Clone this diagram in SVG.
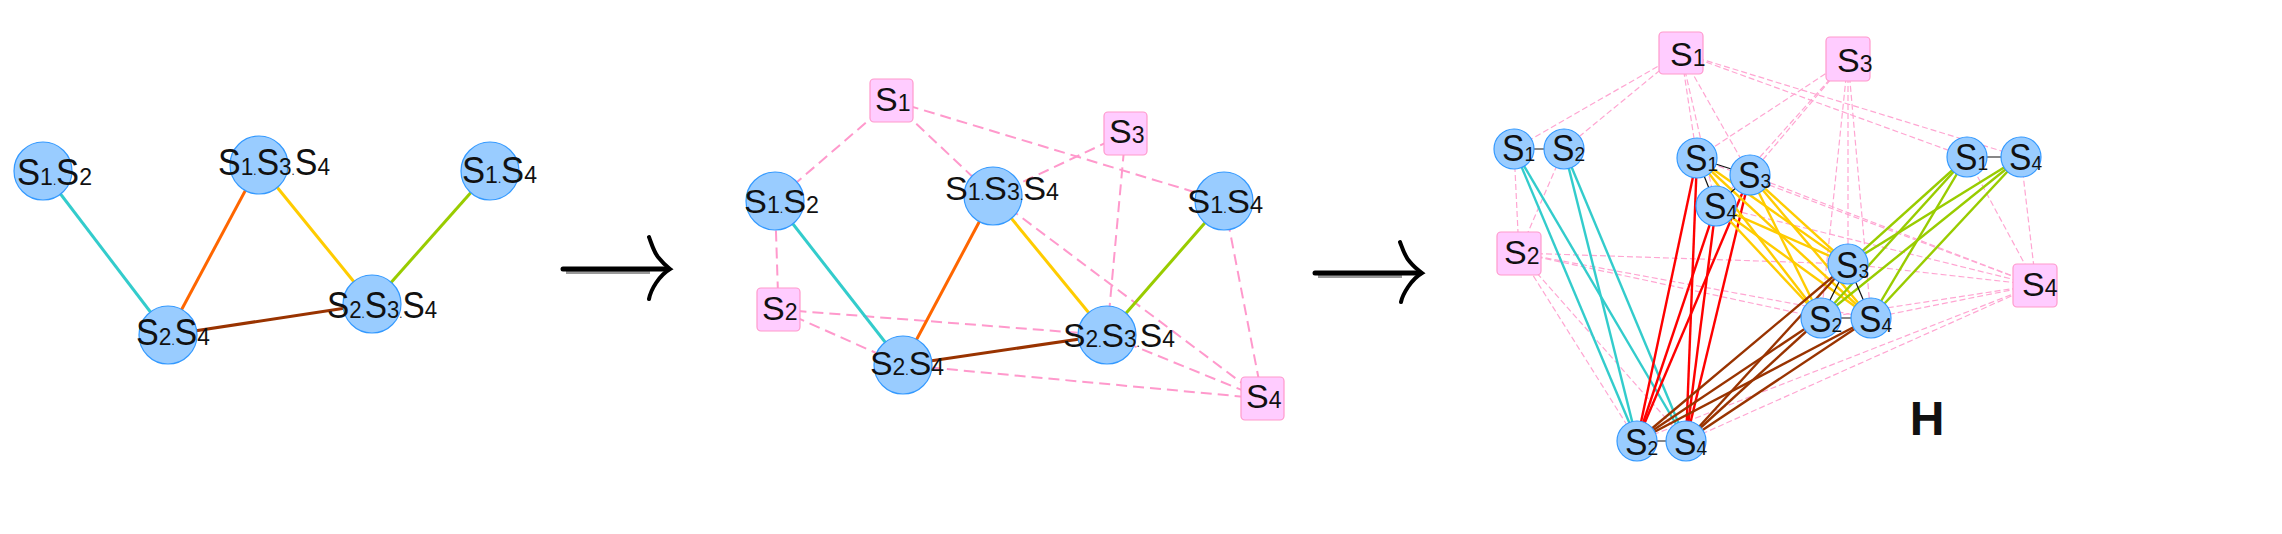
<svg xmlns="http://www.w3.org/2000/svg" width="2282" height="534" viewBox="0 0 2282 534">
<style>
text{font-family:"Liberation Sans",Arial,sans-serif;fill:#111}
.n{fill:#99ccff;stroke:#3399ff;stroke-width:1.2}
.b{fill:#ffccff;stroke:#ff99cc;stroke-width:1.2}
.l1{font-size:36px}.l1 .d{font-size:24px}
.l2{font-size:34px}.l2 .d{font-size:23px}
.l3{font-size:37px}.l3 .d{font-size:21px}
.lb{font-size:34px}.lb .d{font-size:23px}
.dot{font-size:12px}
.e{fill:none;stroke-width:3}
.e3{fill:none;stroke-width:2.4}
.teal{stroke:#33cccc}.orange{stroke:#ff6600}.yellow{stroke:#ffcc00}.green{stroke:#99cc00}.brown{stroke:#993300}.red{stroke:#ff0000}
.dash2{stroke:#ff99cc;stroke-width:2;stroke-dasharray:11 6;fill:none}
.dash3{stroke:#ffa6d2;stroke-width:1.2;stroke-dasharray:6 3;fill:none}
.blk{stroke:#111;stroke-width:1.2;fill:none}
.arr{stroke:#000;fill:none;stroke-linecap:round}
.title{font-size:48px;font-weight:bold}
</style>

<!-- ============ Panel 1 ============ -->
<g id="p1-connectors">
<line class="e teal" x1="43" y1="171" x2="168" y2="335"/>
<line class="e orange" x1="259" y1="165" x2="168" y2="335"/>
<line class="e yellow" x1="259" y1="165" x2="372" y2="304"/>
<line class="e green" x1="490" y1="171" x2="372" y2="304"/>
<line class="e brown" x1="168" y1="335" x2="372" y2="304"/>
</g>
<g id="p1-S1S2"><circle class="n" cx="43" cy="171" r="29"/><text class="l1" x="17" y="185" textLength="75" lengthAdjust="spacingAndGlyphs">S<tspan class="d">1</tspan><tspan class="dot">.</tspan>S<tspan class="d">2</tspan></text></g>
<g id="p1-S1S3S4"><circle class="n" cx="259" cy="165" r="29"/><text class="l1" x="218" y="175" textLength="112" lengthAdjust="spacingAndGlyphs">S<tspan class="d">1</tspan><tspan class="dot">.</tspan>S<tspan class="d">3</tspan><tspan class="dot">.</tspan>S<tspan class="d">4</tspan></text></g>
<g id="p1-S1S4"><circle class="n" cx="490" cy="171" r="29"/><text class="l1" x="462" y="183" textLength="75" lengthAdjust="spacingAndGlyphs">S<tspan class="d">1</tspan><tspan class="dot">.</tspan>S<tspan class="d">4</tspan></text></g>
<g id="p1-S2S4"><circle class="n" cx="168" cy="335" r="29"/><text class="l1" x="136" y="345" textLength="74" lengthAdjust="spacingAndGlyphs">S<tspan class="d">2</tspan><tspan class="dot">.</tspan>S<tspan class="d">4</tspan></text></g>
<g id="p1-S2S3S4"><circle class="n" cx="372" cy="304" r="29"/><text class="l1" x="327" y="318" textLength="110" lengthAdjust="spacingAndGlyphs">S<tspan class="d">2</tspan><tspan class="dot">.</tspan>S<tspan class="d">3</tspan><tspan class="dot">.</tspan>S<tspan class="d">4</tspan></text></g>

<!-- arrows -->
<g id="arrow1">
<line x1="566" y1="272" x2="650" y2="272" stroke="#999" stroke-width="4"/>
<line class="arr" x1="563" y1="269" x2="668" y2="269" stroke-width="5"/>
<path class="arr" stroke-width="4" d="M649,237 C652,245 654,252 658,257 C662,262 666,266 670,269 C665,272 660,277 656,283 C652,289 650,294 649,299"/>
</g>
<g id="arrow2">
<line x1="1318" y1="276" x2="1402" y2="276" stroke="#999" stroke-width="4"/>
<line class="arr" x1="1315" y1="273" x2="1420" y2="273" stroke-width="5"/>
<path class="arr" stroke-width="4" d="M1400,242 C1403,250 1405,257 1410,262 C1414,267 1418,270 1422,273 C1417,276 1412,281 1408,287 C1404,293 1402,297 1401,302"/>
</g>

<!-- ============ Panel 2 ============ -->
<g id="p2-connectors">
<line class="dash2" x1="891.5" y1="100.5" x2="775" y2="201"/>
<line class="dash2" x1="891.5" y1="100.5" x2="993" y2="196"/>
<line class="dash2" x1="891.5" y1="100.5" x2="1224" y2="201"/>
<line class="dash2" x1="778.5" y1="309.5" x2="775" y2="201"/>
<line class="dash2" x1="778.5" y1="309.5" x2="903" y2="365"/>
<line class="dash2" x1="778.5" y1="309.5" x2="1107" y2="335"/>
<line class="dash2" x1="1125.5" y1="133.5" x2="993" y2="196"/>
<line class="dash2" x1="1125.5" y1="133.5" x2="1107" y2="335"/>
<line class="dash2" x1="1262.5" y1="398.5" x2="993" y2="196"/>
<line class="dash2" x1="1262.5" y1="398.5" x2="1224" y2="201"/>
<line class="dash2" x1="1262.5" y1="398.5" x2="903" y2="365"/>
<line class="dash2" x1="1262.5" y1="398.5" x2="1107" y2="335"/>
<line class="e teal" x1="775" y1="201" x2="903" y2="365"/>
<line class="e orange" x1="993" y1="196" x2="903" y2="365"/>
<line class="e yellow" x1="993" y1="196" x2="1107" y2="335"/>
<line class="e green" x1="1224" y1="201" x2="1107" y2="335"/>
<line class="e brown" x1="903" y1="365" x2="1107" y2="335"/>
</g>
<g id="p2-S1"><rect class="b" x="870" y="79" width="43" height="43" rx="4"/><text class="lb" x="875" y="111">S<tspan class="d">1</tspan></text></g>
<g id="p2-S3"><rect class="b" x="1104" y="112" width="43" height="43" rx="4"/><text class="lb" x="1109" y="143">S<tspan class="d">3</tspan></text></g>
<g id="p2-S2"><rect class="b" x="757" y="288" width="43" height="43" rx="4"/><text class="lb" x="762" y="320">S<tspan class="d">2</tspan></text></g>
<g id="p2-S4"><rect class="b" x="1241" y="377" width="43" height="43" rx="4"/><text class="lb" x="1246" y="408">S<tspan class="d">4</tspan></text></g>
<g id="p2-S1S2"><circle class="n" cx="775" cy="201" r="29"/><text class="l2" x="744" y="213" textLength="75" lengthAdjust="spacingAndGlyphs">S<tspan class="d">1</tspan><tspan class="dot">.</tspan>S<tspan class="d">2</tspan></text></g>
<g id="p2-S1S3S4"><circle class="n" cx="993" cy="196" r="29"/><text class="l2" x="945" y="200" textLength="114" lengthAdjust="spacingAndGlyphs">S<tspan class="d">1</tspan><tspan class="dot">.</tspan>S<tspan class="d">3</tspan><tspan class="dot">.</tspan>S<tspan class="d">4</tspan></text></g>
<g id="p2-S1S4"><circle class="n" cx="1224" cy="201" r="29"/><text class="l2" x="1187" y="213" textLength="76" lengthAdjust="spacingAndGlyphs">S<tspan class="d">1</tspan><tspan class="dot">.</tspan>S<tspan class="d">4</tspan></text></g>
<g id="p2-S2S4"><circle class="n" cx="903" cy="365" r="29"/><text class="l2" x="870" y="375" textLength="74" lengthAdjust="spacingAndGlyphs">S<tspan class="d">2</tspan><tspan class="dot">.</tspan>S<tspan class="d">4</tspan></text></g>
<g id="p2-S2S3S4"><circle class="n" cx="1107" cy="335" r="29"/><text class="l2" x="1063" y="347" textLength="112" lengthAdjust="spacingAndGlyphs">S<tspan class="d">2</tspan><tspan class="dot">.</tspan>S<tspan class="d">3</tspan><tspan class="dot">.</tspan>S<tspan class="d">4</tspan></text></g>

<!-- ============ Panel 3 ============ -->
<g id="p3-connectors">
<!-- pink dashed: S1 box -->
<line class="dash3" x1="1681" y1="53" x2="1514" y2="149"/>
<line class="dash3" x1="1681" y1="53" x2="1564" y2="149"/>
<line class="dash3" x1="1681" y1="53" x2="1697" y2="158"/>
<line class="dash3" x1="1681" y1="53" x2="1750" y2="175"/>
<line class="dash3" x1="1681" y1="53" x2="1716" y2="206"/>
<line class="dash3" x1="1681" y1="53" x2="1967" y2="157"/>
<line class="dash3" x1="1681" y1="53" x2="2021" y2="157"/>
<!-- S2 box -->
<line class="dash3" x1="1519" y1="253" x2="1514" y2="149"/>
<line class="dash3" x1="1519" y1="253" x2="1564" y2="149"/>
<line class="dash3" x1="1519" y1="253" x2="1637" y2="441"/>
<line class="dash3" x1="1519" y1="253" x2="1686" y2="441"/>
<line class="dash3" x1="1519" y1="253" x2="1821" y2="318"/>
<line class="dash3" x1="1519" y1="253" x2="1848" y2="264"/>
<line class="dash3" x1="1519" y1="253" x2="1871" y2="318"/>
<!-- S3 box -->
<line class="dash3" x1="1848" y1="59" x2="1697" y2="158"/>
<line class="dash3" x1="1848" y1="59" x2="1750" y2="175"/>
<line class="dash3" x1="1848" y1="59" x2="1716" y2="206"/>
<line class="dash3" x1="1848" y1="59" x2="1821" y2="318"/>
<line class="dash3" x1="1848" y1="59" x2="1848" y2="264"/>
<line class="dash3" x1="1848" y1="59" x2="1871" y2="318"/>
<!-- S4 box -->
<line class="dash3" x1="2036" y1="285" x2="1697" y2="158"/>
<line class="dash3" x1="2036" y1="285" x2="1750" y2="175"/>
<line class="dash3" x1="2036" y1="285" x2="1716" y2="206"/>
<line class="dash3" x1="2036" y1="285" x2="1967" y2="157"/>
<line class="dash3" x1="2036" y1="285" x2="2021" y2="157"/>
<line class="dash3" x1="2036" y1="285" x2="1637" y2="441"/>
<line class="dash3" x1="2036" y1="285" x2="1686" y2="441"/>
<line class="dash3" x1="2036" y1="285" x2="1821" y2="318"/>
<line class="dash3" x1="2036" y1="285" x2="1848" y2="264"/>
<line class="dash3" x1="2036" y1="285" x2="1871" y2="318"/>
<!-- teal -->
<line class="e3 teal" x1="1514" y1="149" x2="1637" y2="441"/>
<line class="e3 teal" x1="1514" y1="149" x2="1686" y2="441"/>
<line class="e3 teal" x1="1564" y1="149" x2="1637" y2="441"/>
<line class="e3 teal" x1="1564" y1="149" x2="1686" y2="441"/>
<!-- red -->
<line class="e3 red" x1="1697" y1="158" x2="1637" y2="441"/>
<line class="e3 red" x1="1697" y1="158" x2="1686" y2="441"/>
<line class="e3 red" x1="1750" y1="175" x2="1637" y2="441"/>
<line class="e3 red" x1="1750" y1="175" x2="1686" y2="441"/>
<line class="e3 red" x1="1716" y1="206" x2="1637" y2="441"/>
<line class="e3 red" x1="1716" y1="206" x2="1686" y2="441"/>
<!-- yellow -->
<line class="e3 yellow" x1="1697" y1="158" x2="1821" y2="318"/>
<line class="e3 yellow" x1="1697" y1="158" x2="1848" y2="264"/>
<line class="e3 yellow" x1="1697" y1="158" x2="1871" y2="318"/>
<line class="e3 yellow" x1="1750" y1="175" x2="1821" y2="318"/>
<line class="e3 yellow" x1="1750" y1="175" x2="1848" y2="264"/>
<line class="e3 yellow" x1="1750" y1="175" x2="1871" y2="318"/>
<line class="e3 yellow" x1="1716" y1="206" x2="1821" y2="318"/>
<line class="e3 yellow" x1="1716" y1="206" x2="1848" y2="264"/>
<line class="e3 yellow" x1="1716" y1="206" x2="1871" y2="318"/>
<!-- green -->
<line class="e3 green" x1="1967" y1="157" x2="1821" y2="318"/>
<line class="e3 green" x1="1967" y1="157" x2="1848" y2="264"/>
<line class="e3 green" x1="1967" y1="157" x2="1871" y2="318"/>
<line class="e3 green" x1="2021" y1="157" x2="1821" y2="318"/>
<line class="e3 green" x1="2021" y1="157" x2="1848" y2="264"/>
<line class="e3 green" x1="2021" y1="157" x2="1871" y2="318"/>
<!-- brown -->
<line class="e3 brown" x1="1637" y1="441" x2="1821" y2="318"/>
<line class="e3 brown" x1="1637" y1="441" x2="1848" y2="264"/>
<line class="e3 brown" x1="1637" y1="441" x2="1871" y2="318"/>
<line class="e3 brown" x1="1686" y1="441" x2="1821" y2="318"/>
<line class="e3 brown" x1="1686" y1="441" x2="1848" y2="264"/>
<line class="e3 brown" x1="1686" y1="441" x2="1871" y2="318"/>
<!-- black intra-cluster -->
<line class="blk" x1="1514" y1="149" x2="1564" y2="149"/>
<line class="blk" x1="1697" y1="158" x2="1750" y2="175"/>
<line class="blk" x1="1697" y1="158" x2="1716" y2="206"/>
<line class="blk" x1="1750" y1="175" x2="1716" y2="206"/>
<line class="blk" x1="1967" y1="157" x2="2021" y2="157"/>
<line class="blk" x1="1848" y1="264" x2="1821" y2="318"/>
<line class="blk" x1="1848" y1="264" x2="1871" y2="318"/>
<line class="blk" x1="1821" y1="318" x2="1871" y2="318"/>
<line class="blk" x1="1637" y1="441" x2="1686" y2="441"/>
</g>
<g id="p3-box-S1"><rect class="b" x="1659" y="32" width="44" height="42" rx="4"/><text class="lb" x="1670" y="66">S<tspan class="d">1</tspan></text></g>
<g id="p3-box-S3"><rect class="b" x="1826" y="37" width="44" height="44" rx="4"/><text class="lb" x="1837" y="72">S<tspan class="d">3</tspan></text></g>
<g id="p3-box-S2"><rect class="b" x="1497" y="232" width="44" height="43" rx="4"/><text class="lb" x="1504" y="264">S<tspan class="d">2</tspan></text></g>
<g id="p3-box-S4"><rect class="b" x="2013" y="264" width="44" height="43" rx="4"/><text class="lb" x="2022" y="296">S<tspan class="d">4</tspan></text></g>

<g id="p3-S1S2-S1"><circle class="n" cx="1514" cy="149" r="20"/><text class="l3" x="1502" y="161" textLength="33" lengthAdjust="spacingAndGlyphs">S<tspan class="d">1</tspan></text></g>
<g id="p3-S1S2-S2"><circle class="n" cx="1564" cy="149" r="20"/><text class="l3" x="1552" y="161" textLength="33" lengthAdjust="spacingAndGlyphs">S<tspan class="d">2</tspan></text></g>
<g id="p3-S1S3S4-S1"><circle class="n" cx="1697" cy="158" r="20"/><text class="l3" x="1685" y="171" textLength="33" lengthAdjust="spacingAndGlyphs">S<tspan class="d">1</tspan></text></g>
<g id="p3-S1S3S4-S3"><circle class="n" cx="1750" cy="175" r="20"/><text class="l3" x="1738" y="188" textLength="33" lengthAdjust="spacingAndGlyphs">S<tspan class="d">3</tspan></text></g>
<g id="p3-S1S3S4-S4"><circle class="n" cx="1716" cy="206" r="20"/><text class="l3" x="1704" y="219" textLength="33" lengthAdjust="spacingAndGlyphs">S<tspan class="d">4</tspan></text></g>
<g id="p3-S1S4-S1"><circle class="n" cx="1967" cy="157" r="20"/><text class="l3" x="1955" y="170" textLength="33" lengthAdjust="spacingAndGlyphs">S<tspan class="d">1</tspan></text></g>
<g id="p3-S1S4-S4"><circle class="n" cx="2021" cy="157" r="20"/><text class="l3" x="2009" y="170" textLength="33" lengthAdjust="spacingAndGlyphs">S<tspan class="d">4</tspan></text></g>
<g id="p3-S2S3S4-S3"><circle class="n" cx="1848" cy="264" r="20"/><text class="l3" x="1836" y="278" textLength="33" lengthAdjust="spacingAndGlyphs">S<tspan class="d">3</tspan></text></g>
<g id="p3-S2S3S4-S2"><circle class="n" cx="1821" cy="318" r="20"/><text class="l3" x="1809" y="332" textLength="33" lengthAdjust="spacingAndGlyphs">S<tspan class="d">2</tspan></text></g>
<g id="p3-S2S3S4-S4"><circle class="n" cx="1871" cy="318" r="20"/><text class="l3" x="1859" y="332" textLength="33" lengthAdjust="spacingAndGlyphs">S<tspan class="d">4</tspan></text></g>
<g id="p3-S2S4-S2"><circle class="n" cx="1637" cy="441" r="20"/><text class="l3" x="1625" y="455" textLength="33" lengthAdjust="spacingAndGlyphs">S<tspan class="d">2</tspan></text></g>
<g id="p3-S2S4-S4"><circle class="n" cx="1686" cy="441" r="20"/><text class="l3" x="1674" y="455" textLength="33" lengthAdjust="spacingAndGlyphs">S<tspan class="d">4</tspan></text></g>

<g id="label-H"><text class="title" x="1927" y="435" text-anchor="middle">H</text></g>
</svg>
